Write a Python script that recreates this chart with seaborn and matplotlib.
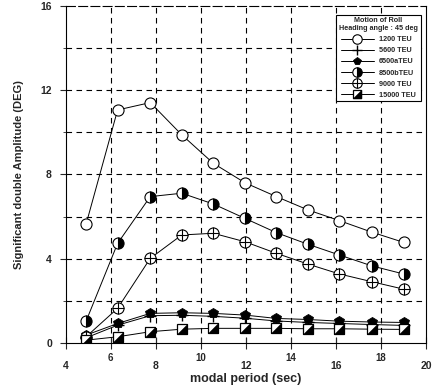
import numpy as np
import pandas as pd
import matplotlib
matplotlib.use("Agg")
import matplotlib.pyplot as plt
from matplotlib.path import Path
from matplotlib.legend_handler import HandlerTuple
from matplotlib.ticker import MultipleLocator, FixedLocator, FixedFormatter
import seaborn as sns

# modal period (sec)
period = [4.9, 6.3, 7.75, 9.15, 10.55, 11.95, 13.35, 14.75, 16.15, 17.6, 19.0]

teu_1200 = [5.64, 11.06, 11.41, 9.88, 8.53, 7.61, 6.95, 6.32, 5.81, 5.26, 4.78]
teu_5600 = [0.25, 0.85, 1.30, 1.32, 1.27, 1.18, 1.05, 0.98, 0.93, 0.88, 0.84]
teu_6500a = [0.38, 0.93, 1.41, 1.44, 1.41, 1.33, 1.17, 1.12, 1.04, 1.00, 0.98]
teu_8500b = [1.04, 4.73, 6.95, 7.11, 6.60, 5.92, 5.24, 4.69, 4.18, 3.66, 3.28]
teu_9000 = [0.30, 1.65, 4.02, 5.13, 5.21, 4.81, 4.26, 3.75, 3.28, 2.91, 2.56]
teu_15000 = [0.14, 0.30, 0.54, 0.66, 0.70, 0.70, 0.70, 0.68, 0.68, 0.66, 0.65]

labels = ["1200 TEU", "5600 TEU", "6500aTEU", "8500bTEU", "9000 TEU", "15000 TEU"]
series = [teu_1200, teu_5600, teu_6500a, teu_8500b, teu_9000, teu_15000]

df = pd.concat(
    [pd.DataFrame({"period": period, "amp": s, "ship": lab}) for lab, s in zip(labels, series)],
    ignore_index=True,
)

sns.set_style("ticks")
plt.rcParams["font.family"] = ["Liberation Sans", "DejaVu Sans"]
plt.rcParams["font.weight"] = "bold"

fig = plt.figure(figsize=(4.33, 3.89), dpi=100)
ax = fig.add_axes([0.152, 0.118, 0.832, 0.867])

# half-filled square: black lower-right triangle
tri = Path([(1, -1), (1, 1), (-1, -1), (1, -1)], [Path.MOVETO, Path.LINETO, Path.LINETO, Path.CLOSEPOLY])

line_kw = dict(color="black", linewidth=0.7, legend=False, ax=ax)

def sub(name):
    return df[df["ship"] == name]

handles = []

sns.lineplot(data=sub("1200 TEU"), x="period", y="amp", marker="o", markersize=8,
             markerfacecolor="white", markeredgecolor="black", markeredgewidth=0.8, **line_kw)
handles.append(ax.lines[-1])

sns.lineplot(data=sub("5600 TEU"), x="period", y="amp", marker="+", markersize=8,
             markeredgecolor="black", markeredgewidth=1.0, **line_kw)
handles.append(ax.lines[-1])

sns.lineplot(data=sub("6500aTEU"), x="period", y="amp", marker="p", markersize=7,
             markerfacecolor="black", markeredgecolor="black", markeredgewidth=0.6, **line_kw)
handles.append(ax.lines[-1])

sns.lineplot(data=sub("8500bTEU"), x="period", y="amp", marker="o", markersize=8,
             fillstyle="right", markerfacecolor="black", markerfacecoloralt="white",
             markeredgecolor="black", markeredgewidth=0.8, **line_kw)
handles.append(ax.lines[-1])

sns.lineplot(data=sub("9000 TEU"), x="period", y="amp", marker="o", markersize=8,
             markerfacecolor="white", markeredgecolor="black", markeredgewidth=0.8, **line_kw)
h_circ = ax.lines[-1]
d9 = sub("9000 TEU")
h_plus, = ax.plot(d9["period"], d9["amp"], linestyle="none", marker="+", markersize=8,
                  markeredgecolor="black", markeredgewidth=0.8)
handles.append((h_circ, h_plus))

sns.lineplot(data=sub("15000 TEU"), x="period", y="amp", marker="s", markersize=7.5,
             markerfacecolor="white", markeredgecolor="black", markeredgewidth=0.9, **line_kw)
h_sq = ax.lines[-1]
d15 = sub("15000 TEU")
h_tri, = ax.plot(d15["period"], d15["amp"], linestyle="none", marker=tri, markersize=7.5,
                 markerfacecolor="black", markeredgecolor="black", markeredgewidth=0.3)
handles.append((h_sq, h_tri))

ax.set_xlim(4, 20)
ax.set_ylim(0, 16)

# staggered x tick labels: 4, 8, ... lower, 6, 10, ... higher
ax.xaxis.set_major_locator(FixedLocator([4, 8, 12, 16, 20]))
ax.xaxis.set_minor_locator(FixedLocator([6, 10, 14, 18]))
ax.xaxis.set_minor_formatter(FixedFormatter(["6", "10", "14", "18"]))
ax.tick_params(axis="x", which="major", direction="inout", length=8, width=0.8, pad=9, labelsize=7.5)
ax.tick_params(axis="x", which="minor", direction="inout", length=8, width=0.8, pad=3, labelsize=7)
ax.yaxis.set_major_locator(MultipleLocator(4))
ax.yaxis.set_minor_locator(MultipleLocator(2))
ax.tick_params(axis="y", which="major", direction="out", length=4, width=0.8, labelsize=7.5, pad=6)
ax.tick_params(axis="y", which="minor", direction="out", length=2, width=0.6)

for lab in ax.get_xticklabels(which="both") + ax.get_yticklabels():
    lab.set_fontweight("bold")

for xv in [6, 8, 10, 12, 14, 16, 18]:
    ax.axvline(xv, color="black", linewidth=0.8, linestyle=(0, (5, 4)), zorder=0.5)
for yv in [2, 4, 6, 8, 10, 12, 14]:
    ax.axhline(yv, color="black", linewidth=0.8, linestyle=(0, (5, 4)), zorder=0.5)

for sp in ax.spines.values():
    sp.set_linewidth(0.8)
    sp.set_color("black")
ax.spines["top"].set_linestyle((0, (8, 3)))

ax.set_xlabel("modal period (sec)", fontsize=9, fontweight="bold", labelpad=1)
ax.set_ylabel("Significant double Amplitude (DEG)", fontsize=8, fontweight="bold", labelpad=12)

leg = ax.legend(handles, labels, loc="upper right", bbox_to_anchor=(0.995, 0.985),
                handler_map={tuple: HandlerTuple(ndivide=1, pad=0)},
                title="Motion of Roll\nHeading angle : 45 deg",
                fontsize=5.2, title_fontsize=5.2, frameon=True, fancybox=False,
                edgecolor="black", framealpha=1, handlelength=4.5, handletextpad=0.7,
                borderpad=0.4, labelspacing=0.55, markerscale=0.85)
leg.get_frame().set_linewidth(0.8)
leg.get_title().set_fontweight("bold")
leg.get_title().set_multialignment("center")
for t in leg.get_texts():
    t.set_fontweight("bold")

fig.savefig("out.png", dpi=100)
